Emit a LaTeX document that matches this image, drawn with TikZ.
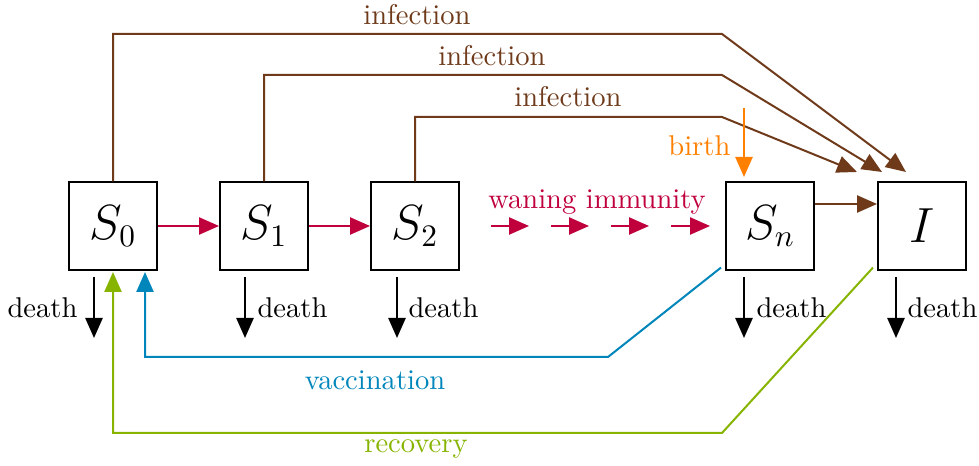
\documentclass[tikz,border=0pt]{standalone}
\usetikzlibrary{arrows.meta}
\definecolor{cbrown}{RGB}{110,58,26}
\definecolor{cred}{RGB}{192,0,60}
\definecolor{cblue}{RGB}{0,134,186}
\definecolor{cgreen}{RGB}{134,180,0}
\definecolor{corange}{RGB}{255,128,0}
\begin{document}
\begin{tikzpicture}[x=0.35pt,y=-0.35pt,
 box/.style={draw,line width=0.7pt,minimum width=30.8pt,minimum height=30.5pt,inner sep=0pt,font=\fontsize{16}{19}\selectfont},
 arr/.style={line width=0.7pt,-{Triangle[length=7pt,width=6pt]}},
 lab/.style={inner sep=0pt}]
\useasboundingbox (0,0) rectangle (979,466);
% boxes
\node[box] (S0) at (113,226) {$S_0$};
\node[box] (S1) at (264,226) {$S_1$};
\node[box] (S2) at (415,226) {$S_2$};
\node[box] (Sn) at (770,226) {$S_n$};
\node[box] (I)  at (922,226) {$I$};
% waning
\draw[arr,cred] (S0) -- (S1);
\draw[arr,cred] (S1) -- (S2);
\coordinate (w1a) at (491,226); \coordinate (w1b) at (529,226);
\coordinate (w2a) at (551,226); \coordinate (w2b) at (589,226);
\coordinate (w3a) at (611,226); \coordinate (w3b) at (649,226);
\coordinate (w4a) at (671,226); \coordinate (w4b) at (710,226);
\draw[arr,cred] (w1a) -- (w1b);
\draw[arr,cred] (w2a) -- (w2b);
\draw[arr,cred] (w3a) -- (w3b);
\draw[arr,cred] (w4a) -- (w4b);
\node[lab,text=cred] (wl) at (597,202) {waning immunity};
% Sn -> I
\draw[arr,cbrown] (Sn.east |- 0,204) -- (I.west |- 0,204);
% infection
\coordinate (k1) at (722,34);  \coordinate (t1) at (906,172);
\coordinate (k2) at (722,75);  \coordinate (t2) at (882,172);
\coordinate (k3) at (722,117); \coordinate (t3) at (857,172);
\draw[arr,cbrown] (S0.north) |- (k1) -- (t1);
\draw[arr,cbrown] (S1.north) |- (k2) -- (t2);
\draw[arr,cbrown] (S2.north) |- (k3) -- (t3);
\node[lab,text=cbrown] (i1) at (417,15) {infection};
\node[lab,text=cbrown] (i2) at (492,56) {infection};
\node[lab,text=cbrown] (i3) at (568,97) {infection};
% birth
\coordinate (b0) at (744,108);
\draw[arr,corange] (b0) -- (744,177);
\node[lab,text=corange,anchor=east] (bl) at (731,146) {birth};
% deaths
\foreach \n/\x in {S0/94,S1/245,S2/397,Sn/744,I/896}{
  \coordinate (d\n a) at (\x,277);
  \coordinate (d\n b) at (\x,338);
  \draw[arr] (d\n a) -- (d\n b);
}
\node[lab,anchor=east] (dl0) at (78,308) {death};
\node[lab,anchor=west] (dl1) at (257,308) {death};
\node[lab,anchor=west] (dl2) at (408,308) {death};
\node[lab,anchor=west] (dln) at (756,308) {death};
\node[lab,anchor=west] (dlI) at (907,308) {death};
% vaccination
\coordinate (v1) at (608,357); \coordinate (v2) at (145,357); \coordinate (vt) at (145,272);
\draw[arr,cblue] (Sn.south west) ++(-4,-3) coordinate (v0) -- (v1) -- (v2) -- (vt);
\node[lab,text=cblue] (vl) at (375,380) {vaccination};
% recovery
\coordinate (r1) at (722,433); \coordinate (r2) at (113,433); \coordinate (rt) at (113,272);
\draw[arr,cgreen] (I.south west) ++(-4,-3) coordinate (r0) -- (r1) -- (r2) -- (rt);
\node[lab,text=cgreen] (rl) at (416,449) {recovery};
\end{tikzpicture}
\end{document}
